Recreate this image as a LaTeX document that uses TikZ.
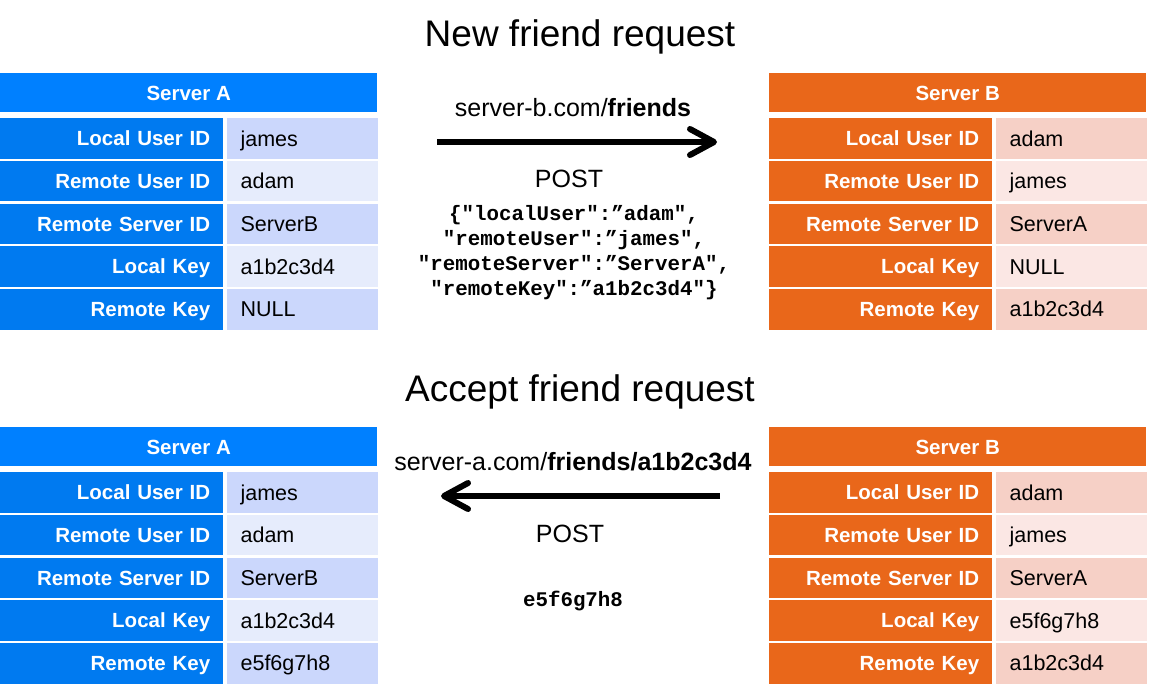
\documentclass[tikz,border=0pt]{standalone}
\usepackage{fontspec}
\setmainfont{Liberation Sans}
\setmonofont{Liberation Mono}
\usetikzlibrary{arrows.meta}
\definecolor{headA}{RGB}{0,128,255}
\definecolor{labA}{RGB}{0,122,240}
\definecolor{darkA}{RGB}{203,215,252}
\definecolor{lightA}{RGB}{230,236,252}
\definecolor{headB}{RGB}{233,103,26}
\definecolor{labB}{RGB}{233,103,26}
\definecolor{darkB}{RGB}{246,208,198}
\definecolor{lightB}{RGB}{251,231,228}
\tikzset{
	head/.style={anchor=north west, minimum width=377pt, minimum height=39pt, inner sep=0pt, text height=14.7pt, text depth=0pt, text=white, font=\fontsize{20.5}{24}\selectfont\bfseries},
	lab/.style={anchor=north west, minimum height=40.5pt, text width=197pt, inner xsep=13pt, inner ysep=0pt, text height=14.7pt, text depth=0pt, align=right, text=white, font=\fontsize{20.5}{24}\selectfont\bfseries},
	val/.style={anchor=north west, minimum height=40.5pt, text width=123pt, inner xsep=14pt, inner ysep=0pt, text height=15.4pt, text depth=0pt, align=left, font=\fontsize{21.5}{24}\selectfont},
	title/.style={anchor=base, font=\fontsize{37}{40}\selectfont},
	url/.style={anchor=base, font=\fontsize{25}{28}\selectfont},
	json/.style={anchor=base, font=\fontsize{20.8}{25}\selectfont\ttfamily\bfseries},
	msg/.style={line width=6pt, -{Straight Barb[length=24pt,width=26pt,round]}}
}
\newcommand{\servertable}[5]{
	\node[head, fill=head#4] (#1h) at (#2,#3) {Server #4};
	\foreach[count=\i] \lbl in {Local User ID, Remote User ID, Remote Server ID, Local Key, Remote Key}
		\node[lab, fill=lab#4] (#1l\i) at (#2, {#3+45+(\i-1)*42.7}) {\lbl};
	\foreach[count=\i] \v in {#5}{
		\ifodd\i \def\shade{dark#4}\else \def\shade{light#4}\fi
		\node[val, fill=\shade] (#1v\i) at ([xshift=3pt]#1l\i.north east) {\v};}
}

\begin{document}
\begin{tikzpicture}[x=1pt, y=-1pt]
	\useasboundingbox (0,0) rectangle (1158,686);
	\node[title] (newT) at (580,46) {New friend request};
	\node[title] (accT) at (580,401) {Accept friend request};

	\servertable{newA}{0}{73}{A}{james, adam, ServerB, a1b2c3d4, NULL}
	\servertable{newB}{769}{73}{B}{adam, james, ServerA, NULL, a1b2c3d4}
	\servertable{accA}{0}{427}{A}{james, adam, ServerB, a1b2c3d4, e5f6g7h8}
	\servertable{accB}{769}{427}{B}{adam, james, ServerA, e5f6g7h8, a1b2c3d4}

	\node[url] (reqUrl) at (573,116) {server-b.com/\textbf{friends}};
	\coordinate (reqFrom) at (437,142);
	\coordinate (reqTo) at (717,142);
	\draw[msg] (reqFrom) -- (reqTo);
	\node[url] (reqPost) at (569,187) {POST};
	\foreach[count=\i] \line in {{\{"localUser":”adam",}, {"remoteUser":”james",}, {"remoteServer":”ServerA",}, {"remoteKey":”a1b2c3d4"\}}}
		\node[json] (json\i) at (574, {220+(\i-1)*25}) {\line};

	\node[url] (accUrl) at (573,470) {server-a.com/\textbf{friends/a1b2c3d4}};
	\coordinate (accFrom) at (720,496);
	\coordinate (accTo) at (441,496);
	\draw[msg] (accFrom) -- (accTo);
	\node[url] (accPost) at (570,542) {POST};
	\node[json] (accKey) at (573,606) {e5f6g7h8};
\end{tikzpicture}
\end{document}
